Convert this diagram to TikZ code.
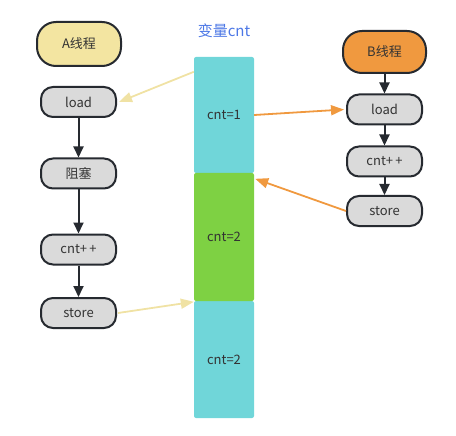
\documentclass[tikz,border=0pt]{standalone}
\usepackage{fontspec}
\setmainfont{Noto Sans CJK SC}
\usetikzlibrary{arrows.meta,calc}
\definecolor{pyellow}{HTML}{F3E5A1}
\definecolor{ayellow}{HTML}{F0E2A4}
\definecolor{orng}{HTML}{F0993F}
\definecolor{gry}{HTML}{DADADA}
\definecolor{bord}{HTML}{262A30}
\definecolor{cyn}{HTML}{70D6D9}
\definecolor{grn}{HTML}{7ED143}
\definecolor{ttl}{HTML}{4D78E6}
\definecolor{txt}{HTML}{333333}
\tikzset{
  pill/.style={draw=bord, line width=2pt, rounded corners=12pt, inner sep=0pt,
    minimum width=75pt, minimum height=30pt, fill=gry, text=txt,
    font=\fontsize{13}{15}\selectfont},
  head/.style={pill, rounded corners=19pt, minimum width=84pt, minimum height=44pt},
  cell/.style={inner sep=0pt, rounded corners=2pt, minimum width=60pt, text=txt,
    font=\fontsize{13}{15}\selectfont},
  flow/.style={draw=bord, line width=2pt, -{Triangle[length=11pt,width=10pt]}},
  yarr/.style={draw=ayellow, line width=1.8pt, -{Triangle[length=13pt,width=10pt]}},
  oarr/.style={draw=orng, line width=1.8pt, -{Triangle[length=13pt,width=10pt]}},
}
\begin{document}
\begin{tikzpicture}[x=1pt,y=-1pt]
\useasboundingbox (0,0) rectangle (456,436);
% column
\node[cell, fill=cyn, minimum height=116pt] (c1) at (224,115) {cnt=1};
\node[cell, fill=cyn, minimum height=117pt] (c3) at (224,359.5) {cnt=2};
\node[cell, fill=grn, minimum height=128pt] (c2) at (224,237) {cnt=2};
\node[text=ttl, font=\fontsize{15}{17}\selectfont] (title) at (224,31) {变量cnt};
% thread A
\node[head, fill=pyellow] (ah) at (79,44) {A线程};
\node[pill] (aload) at (78.5,102) {load};
\node[pill] (ablk) at (78.5,173.5) {阻塞};
\node[pill] (ainc) at (78.5,249.5) {cnt+\,+};
\node[pill] (astore) at (78.5,313) {store};
% thread B
\node[head, fill=orng, minimum width=83pt, minimum height=42pt] (bh) at (384.5,52) {B线程};
\node[pill] (bload) at (384.5,109.5) {load};
\node[pill] (binc) at (384.5,161.5) {cnt+\,+};
\node[pill] (bstore) at (384.5,211) {store};
% flow arrows
\draw[flow] (aload) -- (ablk);
\draw[flow] (ablk) -- (ainc);
\draw[flow] (ainc) -- (astore);
\draw[flow] (bh) -- (bload);
\draw[flow] (bload) -- (binc);
\draw[flow] (binc) -- (bstore);
% memory arrows
\draw[yarr] ($(c1.north west)+(0,15)$) -- ($(aload.east)+(2,0)$);
\draw[oarr] (c1.east) -- ($(bload.west)+(-2,0)$);
\draw[oarr] (bstore.west) -- ($(c2.north east)+(1,6)$);
\draw[yarr] ($(astore.east)+(1,0)$) -- ($(c3.north west)+(0,1)$);
\end{tikzpicture}
\end{document}
